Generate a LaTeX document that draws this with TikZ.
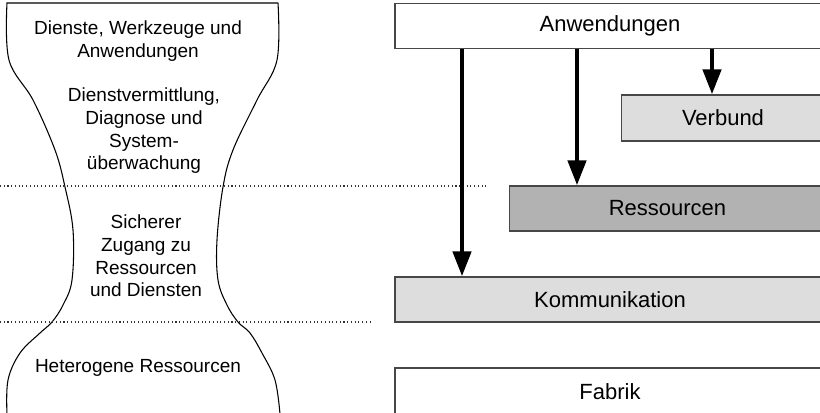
\documentclass[tikz,border=0pt]{standalone}
\usepackage{fontspec}
\setmainfont{Liberation Sans}
\usetikzlibrary{arrows.meta}
\definecolor{boxline}{HTML}{474747}
\definecolor{lightfill}{HTML}{DDDDDD}
\definecolor{darkfill}{HTML}{B2B2B2}
\begin{document}
\begin{tikzpicture}[x=0.75pt,y=-0.75pt,
  layerbox/.style={draw=boxline,line width=1pt,minimum width=322.5pt,
    minimum height=33.75pt,inner sep=0pt,
    font=\fontsize{16.5}{19}\selectfont},
  lefttext/.style={align=center,inner sep=0pt,
    font=\fontsize{14.25}{17}\selectfont},
  flow/.style={line width=3.4pt,-{Triangle[length=18.75pt,width=13.5pt]}},
  divider/.style={dotted,line width=0.8pt,black!80},
  glass/.style={line width=0.8pt,black}]
\useasboundingbox (0,0) rectangle (820,412);

% hourglass outline
\draw[glass] plot[smooth,tension=0.6] coordinates {
  (7,414) (8,380) (20,353) (40,333) (52,322) (63,305) (72,280)
  (73,230) (65,187) (55,150) (33,100) (9,60) (7,3)}
  -- (278,3)
  plot[smooth,tension=0.6] coordinates {
  (278,3) (277,60) (257,100) (233,150) (223,187) (217,240) (218,280)
  (227,305) (238,322) (250,333) (262,353) (275,380) (280,414)};

% dotted separators
\draw[divider] (0,186) -- (487,186);
\draw[divider] (0,322) -- (372,322);

% texts inside the hourglass
\node[lefttext] (t1) at (138,41) {Dienste, Werkzeuge und\\Anwendungen};
\node[lefttext] (t2) at (144,131) {Dienstvermittlung,\\Diagnose und\\System-\\überwachung};
\node[lefttext] (t3) at (146,256) {Sicherer\\Zugang zu\\Ressourcen\\und Diensten};
\node[lefttext] (t4) at (138,368) {Heterogene Ressourcen};

% layer boxes
\node[layerbox,fill=white] (anw) at (610,26) {Anwendungen};
\node[layerbox,fill=lightfill,minimum width=152.25pt,minimum height=34.5pt] (ver) at (723,118) {Verbund};
\node[layerbox,fill=darkfill,minimum width=237pt] (res) at (667.5,208.5) {Ressourcen};
\node[layerbox,fill=lightfill] (kom) at (610,299.5) {Kommunikation};
\node[layerbox,fill=white,minimum height=35.25pt] (fab) at (610,391.5) {Fabrik};

% usage arrows
\draw[flow] (anw.south -| 462,0) -- (kom.north -| 462,0);
\draw[flow] (anw.south -| 577,0) -- (res.north -| 577,0);
\draw[flow] (anw.south -| 712,0) -- (ver.north -| 712,0);
\end{tikzpicture}
\end{document}
